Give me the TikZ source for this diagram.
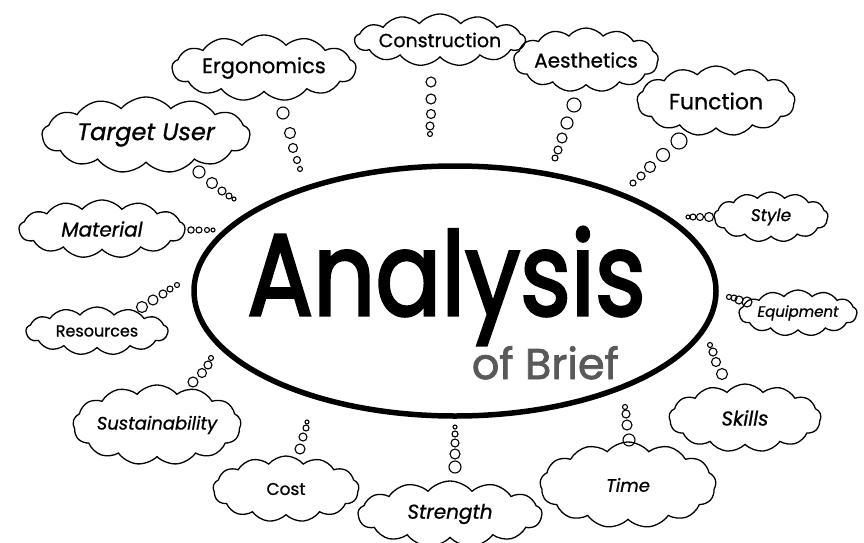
\documentclass[tikz,border=0pt]{standalone}
\usepackage{fontspec}
\setmainfont{Poppins}
\newfontfamily\labelfont{Poppins}[FakeBold=0.8]
\newfontfamily\titlefont{Poppins}[FakeBold=2.6]
\newfontfamily\subfont{Poppins}[FakeBold=1.8]
\usetikzlibrary{shapes.geometric,shapes.symbols}

\begin{document}
\begin{tikzpicture}[x=1pt,y=-1pt,
    thought/.style={draw, cloud, cloud puffs=13, cloud puff arc=100, cloud ignores aspect, line width=1.3pt, inner sep=0pt},
    bubble/.style={draw, line width=1.1pt}]
  \useasboundingbox (0,0) rectangle (864,543);

  % centre
  \node (brief) [draw, ellipse, line width=5.5pt, minimum width=522pt, minimum height=250pt] at (455,291) {};
  \node (analysis) [inner sep=0pt, align=right, anchor=base east, text=black!65, font=\fontsize{43}{61}\selectfont] at (646,379)
    {{\color{black}\fontsize{116}{116}\titlefont\scalebox{0.84}[1]{Analysis}}\\{\fontsize{43}{43}\subfont of Brief}\hspace*{27pt}};

  % clouds
  \node (construction) [thought, minimum width=148pt, minimum height=52pt] at (440,40) {\fontsize{19}{19}\labelfont Construction};
  \node (ergonomics) [thought, minimum width=184pt, minimum height=66pt] at (264,68) {\fontsize{21}{21}\labelfont Ergonomics};
  \node (aesthetics) [thought, minimum width=144pt, minimum height=64pt] at (586,60) {\fontsize{20}{20}\labelfont Aesthetics};
  \node (function) [thought, minimum width=158pt, minimum height=70pt] at (716,101) {\fontsize{22}{22}\labelfont Function};
  \node (targetuser) [thought, minimum width=208pt, minimum height=76pt] at (146,135) {\fontsize{24}{24}\labelfont\itshape Target User};
  \node (material) [thought, minimum width=166pt, minimum height=58pt] at (102,229) {\fontsize{20}{20}\labelfont\itshape Material};
  \node (style) [thought, minimum width=114pt, minimum height=50pt] at (771,217) {\fontsize{17}{17}\labelfont\itshape Style};
  \node (resources) [thought, minimum width=142pt, minimum height=48pt] at (97,331) {\fontsize{16}{16}\labelfont Resources};
  \node (equipment) [thought, minimum width=118pt, minimum height=46pt] at (798,313) {\fontsize{15}{15}\labelfont\itshape Equipment};
  \node (sustainability) [thought, minimum width=168pt, minimum height=80pt] at (157,425) {\fontsize{18}{18}\labelfont\itshape Sustainability};
  \node (skills) [thought, minimum width=152pt, minimum height=68pt] at (745,418) {\fontsize{20}{20}\labelfont\itshape Skills};
  \node (cost) [thought, minimum width=146pt, minimum height=66pt] at (286,489) {\fontsize{17}{17}\labelfont Cost};
  \node (time) [thought, minimum width=176pt, minimum height=86pt] at (628,485) {\fontsize{18}{18}\labelfont\itshape Time};
  \node (strength) [thought, minimum width=184pt, minimum height=66pt] at (450,514) {\fontsize{20}{20}\labelfont\itshape Strength};

  % thought bubbles
  \foreach \x/\y/\r in {431/82/5, 431/99/5, 431/114/4.5, 430/126/4, 430/134/2.5} \draw[bubble] (\x,\y) circle (\r);
  \foreach \x/\y/\r in {283/113/6, 290/133/5.5, 293/148/4.5, 297/160/3.5, 300/169/2.5} \draw[bubble] (\x,\y) circle (\r);
  \foreach \x/\y/\r in {574/105/7, 567/123/6, 562/138/5, 558/150/4, 555/158/3} \draw[bubble] (\x,\y) circle (\r);
  \foreach \x/\y/\r in {679/141/8, 663/155/6.5, 650/167/5.5, 641/176/4, 633/183/3} \draw[bubble] (\x,\y) circle (\r);
  \foreach \x/\y/\r in {199/172/6, 212/183/5.5, 222/191/4, 229/196/3, 234/199/2} \draw[bubble] (\x,\y) circle (\r);
  \foreach \x/\y/\r in {191/230/3.2, 199/230/3, 207/230/2.5, 213/230/2} \draw[bubble] (\x,\y) circle (\r);
  \foreach \x/\y/\r in {709/217/4.5, 700/217/3.5, 693/217/3, 688/217/2} \draw[bubble] (\x,\y) circle (\r);
  \foreach \x/\y/\r in {142/307/5.5, 153/300/5, 163/294/4, 170/289/3, 177/285/2.5} \draw[bubble] (\x,\y) circle (\r);
  \foreach \x/\y/\r in {747/302/5, 739/300/4, 734/298/3, 729/297/2.5} \draw[bubble] (\x,\y) circle (\r);
  \foreach \x/\y/\r in {193/382/5, 202/373/4.5, 208/365/4, 211/358/2.5} \draw[bubble] (\x,\y) circle (\r);
  \foreach \x/\y/\r in {722/374/5.5, 716/362/4.5, 713/352/4, 710/345/2.5} \draw[bubble] (\x,\y) circle (\r);
  \foreach \x/\y/\r in {300/449/5, 303/437/4, 306/428/3, 307/422/2} \draw[bubble] (\x,\y) circle (\r);
  \foreach \x/\y/\r in {455/467/6, 455/454/5, 455/443/4, 455/434/3, 455/427/2} \draw[bubble] (\x,\y) circle (\r);
  \foreach \x/\y/\r in {629/440/6, 627/425/5, 626/414/4, 625/407/2.5} \draw[bubble] (\x,\y) circle (\r);
\end{tikzpicture}
\end{document}
